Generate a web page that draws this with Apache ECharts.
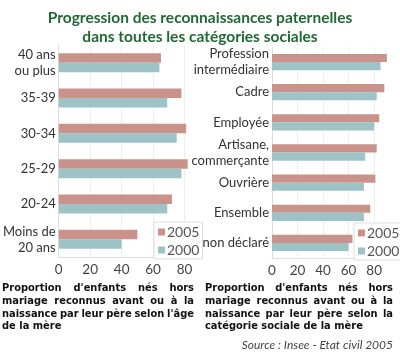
<!DOCTYPE html>
<html><head><meta charset="utf-8">
<script src="https://cdn.jsdelivr.net/npm/echarts@6/dist/echarts.min.js"></script>
<style>html,body{margin:0;padding:0;background:#fff}#c{width:400px;height:354px}</style>
</head><body><div id="c"></div>
<script>
var titleLines = ['Progression des reconnaissances paternelles', 'dans toutes les catégories sociales'];
var seriesNames = ['2005', '2000'];
var ageCategories = ['40 ans\nou plus', '35-39', '30-34', '25-29', '20-24', 'Moins de\n20 ans'];
var age2005 = [65, 78, 81, 82, 72, 50];
var age2000 = [64, 69, 75, 78, 69, 40];
var catCategories = ['Profession\nintermédiaire', 'Cadre', 'Employée', 'Artisane,\ncommerçante', 'Ouvrière', 'Ensemble', 'non déclaré'];
var cat2005 = [90, 88, 84, 82, 81, 77, 63];
var cat2000 = [85, 82, 80, 73, 72, 72, 60];
var captionLeft = ["Proportion d'enfants nés hors", "mariage reconnus avant ou à la", "naissance par leur père selon l'âge", "de la mère"];
var captionRight = ["Proportion d'enfants nés hors", "mariage reconnus avant ou à la", "naissance par leur père selon la", "catégorie sociale de la mère"];
var sourceText = 'Source : Insee - Etat civil 2005';

var C05 = '#c9938b', C00 = '#9dc3c6';
var FONT = 'Lato';
var chart = echarts.init(document.getElementById('c'), null, {renderer: 'canvas'});

var capFont = 'bold 11px "DejaVu Sans Condensed"';
var ctx = document.createElement('canvas').getContext('2d');
function justify(lines, x0, x1, y0, lh) {
  ctx.font = capFont;
  var els = [];
  lines.forEach(function (line, i) {
    var words = line.split(' ');
    var widths = words.map(function (w) { return ctx.measureText(w).width; });
    var total = widths.reduce(function (a, b) { return a + b; }, 0);
    var last = i === lines.length - 1;
    var gap = last ? ctx.measureText(' ').width : (x1 - x0 - total) / (words.length - 1);
    var x = x0;
    words.forEach(function (w, j) {
      els.push({type: 'text', x: x, y: y0 + i * lh, style: {text: w, font: capFont, fill: '#111', textVerticalAlign: 'top'}});
      x += widths[j] + gap;
    });
  });
  return els;
}

function xAx(idx, max) {
  return {
    type: 'value', gridIndex: idx, min: 0, max: max, interval: 20,
    axisLine: {show: true, lineStyle: {color: '#ddd'}},
    axisTick: {show: false},
    splitLine: {show: true, showMaxLine: false, lineStyle: {color: '#eee'}},
    axisLabel: {showMaxLabel: false, color: '#444', fontSize: 13.5, fontFamily: FONT, margin: 6}
  };
}
function yAx(idx, cats) {
  return {
    type: 'category', gridIndex: idx, data: cats, inverse: true,
    axisLine: {show: true, lineStyle: {color: '#ddd'}},
    axisTick: {show: false},
    axisLabel: {color: '#333', fontSize: 13, fontFamily: FONT, lineHeight: 16, margin: 3, align: 'right'}
  };
}
function bar(name, data, color, idx) {
  return {type: 'bar', name: name, data: data, xAxisIndex: idx, yAxisIndex: idx,
    itemStyle: {color: color}, barGap: '0%', barCategoryGap: '46%', silent: true};
}
var legendBase = {
  orient: 'vertical', data: seriesNames, icon: 'rect', itemWidth: 7, itemHeight: 7, itemGap: 4,
  backgroundColor: '#fff', borderColor: '#ddd', borderWidth: 1, padding: [3, 3, 2, 4],
  textStyle: {color: '#555', fontSize: 14, fontFamily: FONT, padding: [0, 0, 0, -3]}, selectedMode: false
};

var graphics = [];
graphics = graphics.concat(justify(captionLeft, 2, 194, 283, 12.7));
graphics = graphics.concat(justify(captionRight, 205, 393, 283, 12.7));
graphics.push({type: 'text', right: 7, top: 339, style: {text: sourceText, font: 'italic 12px Lato', fill: '#444'}});

chart.setOption({
  animation: false,
  title: {text: titleLines.join('\n'), left: 'center', top: 3,
    textStyle: {color: '#216a35', fontSize: 15.5, fontWeight: 'bold', fontFamily: FONT, lineHeight: 19}},
  grid: [
    {left: 55, top: 45, width: 139, height: 212},
    {left: 272, top: 47, width: 120, height: 211}
  ],
  xAxis: [xAx(0, 86), xAx(1, 94)],
  yAxis: [yAx(0, ageCategories), yAx(1, catCategories)],
  legend: [
    Object.assign({left: 154, top: 222}, legendBase),
    Object.assign({left: 354, top: 223}, legendBase)
  ],
  series: [
    bar(seriesNames[0], age2005, C05, 0),
    bar(seriesNames[1], age2000, C00, 0),
    bar(seriesNames[0], cat2005, C05, 1),
    bar(seriesNames[1], cat2000, C00, 1)
  ],
  graphic: graphics
});
</script></body></html>
